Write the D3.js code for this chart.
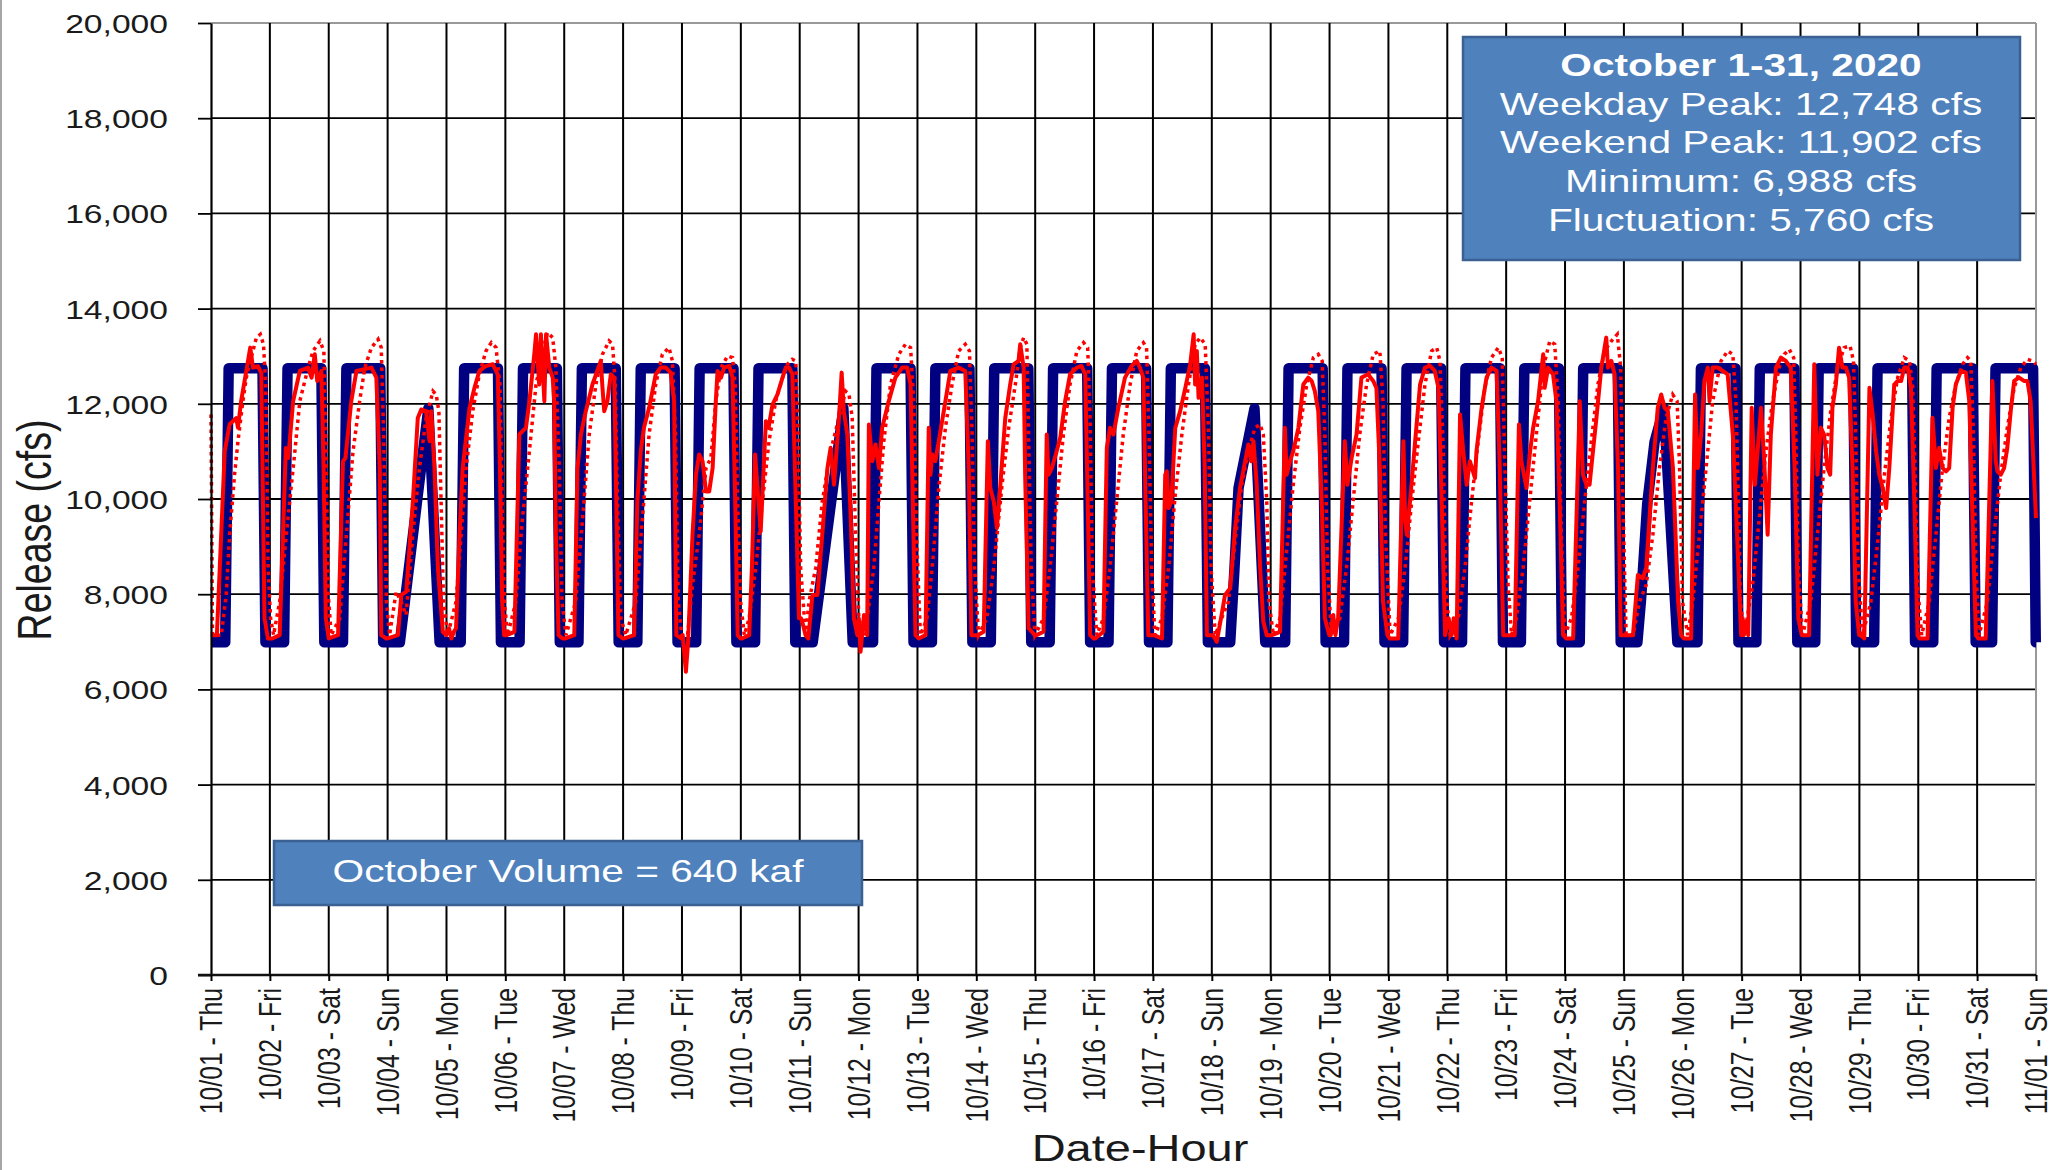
<!DOCTYPE html>
<html>
<head>
<meta charset="utf-8">
<script src="https://cdn.jsdelivr.net/npm/d3@7"></script>
<style>
body { margin: 0; background: #fff; }
svg text { font-family: "Liberation Sans", Arial, sans-serif; }
</style>
</head>
<body>
<svg id="chart" width="2055" height="1170"></svg>
<script>
const dayLabels = ["10/01 - Thu", "10/02 - Fri", "10/03 - Sat", "10/04 - Sun", "10/05 - Mon", "10/06 - Tue",
	"10/07 - Wed", "10/08 - Thu", "10/09 - Fri", "10/10 - Sat", "10/11 - Sun", "10/12 - Mon", "10/13 - Tue",
	"10/14 - Wed", "10/15 - Thu", "10/16 - Fri", "10/17 - Sat", "10/18 - Sun", "10/19 - Mon", "10/20 - Tue",
	"10/21 - Wed", "10/22 - Thu", "10/23 - Fri", "10/24 - Sat", "10/25 - Sun", "10/26 - Mon", "10/27 - Tue",
	"10/28 - Wed", "10/29 - Thu", "10/30 - Fri", "10/31 - Sat", "11/01 - Sun"];

const yTicks = [0, 2000, 4000, 6000, 8000, 10000, 12000, 14000, 16000, 18000, 20000];

const statsLines = ["October 1-31, 2020", "Weekday Peak: 12,748 cfs", "Weekend Peak: 11,902 cfs",
	"Minimum: 6,988 cfs", "Fluctuation: 5,760 cfs"];
const volumeNote = "October Volume = 640 kaf";

// one row per day, [hour of day, cfs]
const plannedDays = [
	[[0,6988],[5.8,6988],[7.2,12748],[21.0,12748],[22.2,6988]],
	[[5.8,6988],[7.2,12748],[21.0,12748],[22.2,6988]],
	[[5.8,6988],[7.2,12748],[21.0,12748],[22.2,6988]],
	[[5.0,6988],[16.6,11902],[21.2,6988]],
	[[5.8,6988],[7.2,12748],[21.0,12748],[22.2,6988]],
	[[5.8,6988],[7.2,12748],[21.0,12748],[22.2,6988]],
	[[5.8,6988],[7.2,12748],[21.0,12748],[22.2,6988]],
	[[5.8,6988],[7.2,12748],[21.0,12748],[22.2,6988]],
	[[5.8,6988],[7.2,12748],[21.0,12748],[22.2,6988]],
	[[5.8,6988],[7.2,12748],[21.0,12748],[22.2,6988]],
	[[5.3,6988],[17.8,11902],[21.6,6988]],
	[[5.9,6988],[7.3,12748],[21.2,12748],[22.4,6988]],
	[[5.9,6988],[7.3,12748],[21.2,12748],[22.4,6988]],
	[[5.9,6988],[7.3,12748],[21.2,12748],[22.4,6988]],
	[[5.9,6988],[7.3,12748],[21.2,12748],[22.4,6988]],
	[[5.9,6988],[7.3,12748],[21.2,12748],[22.4,6988]],
	[[5.9,6988],[7.3,12748],[21.2,12748],[22.4,6988]],
	[[7.5,6988],[9.2,8500],[10.9,10230],[17.4,11902],[21.8,6988]],
	[[5.9,6988],[7.3,12748],[21.2,12748],[22.4,6988]],
	[[5.9,6988],[7.3,12748],[21.2,12748],[22.4,6988]],
	[[6.0,6988],[7.4,12748],[21.5,12748],[22.7,6988]],
	[[6.0,6988],[7.4,12748],[21.5,12748],[22.7,6988]],
	[[6.0,6988],[7.4,12748],[21.5,12748],[22.7,6988]],
	[[6.0,6988],[7.4,12748],[21.5,12748],[22.7,6988]],
	[[5.5,6988],[7.0,7900],[9.5,9900],[12.5,11200],[16.3,11902],[21.8,6988]],
	[[6.0,6988],[7.4,12748],[21.5,12748],[22.7,6988]],
	[[6.0,6988],[7.4,12748],[21.5,12748],[22.7,6988]],
	[[6.0,6988],[7.4,12748],[21.5,12748],[22.7,6988]],
	[[6.0,6988],[7.4,12748],[21.5,12748],[22.7,6988]],
	[[6.1,6988],[7.5,12748],[22.2,12748],[23.4,6988]],
	[[6.1,6988],[7.5,12748],[22.8,12748],[23.9,6988],[24,6988]]
];

const actualDays = [
	[[0,7140],[2.4,7140],[5.6,11000],[7.6,11570],[10.3,11700],[11,11500],[12.3,12060],[14.4,12690],[16,13180],[17.1,12760],[19.1,12790],[20.5,12650],[21.8,7500],[23.2,7070]],
	[[1,7070],[4,7140],[6.5,11070],[7.5,10860],[9.5,12060],[12.2,12690],[15.6,12760],[17,12550],[18.3,13040],[19.3,12480],[21,12690],[21.9,10650],[22.8,7500]],
	[[0,7070],[3.8,7140],[5.8,10790],[6.8,10860],[9.2,12060],[11.3,12690],[17.4,12760],[19.4,12550],[20.8,10650],[21.4,7140],[23.5,7070]],
	[[0,7070],[4.2,7140],[5.6,7985],[7.6,8055],[10.3,9950],[12.3,11700],[13.7,11880],[15.7,11845],[17.1,11215],[17.8,11845],[19.1,10650],[20.5,8550],[22.5,7210],[23.9,7140]],
	[[1,7285],[2,7070],[3,7210],[3.9,7285],[5.3,9250],[6.6,10650],[9.4,11915],[11.4,12335],[13.4,12690],[16.1,12795],[18.9,12830],[20.9,12620],[21.8,10650],[22.7,7845],[23.5,7140]],
	[[0.5,7140],[3.7,7210],[5.7,11355],[7,11425],[8.4,11495],[9.8,12055],[11.8,13040],[12.5,13460],[13.8,12405],[14.5,13460],[15.9,12055],[16.6,13460],[17.9,12760],[19.3,12550],[19.9,12055],[20.6,9250],[21.7,7140],[23.3,7070]],
	[[0.5,7070],[4.1,7140],[5.4,10650],[6.8,11355],[8.8,11845],[11.5,12405],[14.9,12900],[15.6,12335],[16.3,11845],[17.6,12055],[19,12620],[20.4,12550],[21,10650],[22.1,7140],[23.9,7070]],
	[[0.5,7070],[4.5,7140],[5.8,9950],[7.2,11005],[8.5,11495],[10.6,11915],[13.3,12620],[15.3,12760],[17.4,12760],[19.4,12655],[20.8,12055],[21.7,7140],[23.8,7070]],
	[[0.3,7140],[1.6,6370],[2.5,7000],[4.3,9250],[5.7,10510],[7,10935],[8.4,10795],[9.8,10160],[11.1,10160],[12.5,10650],[13.8,12055],[14.5,12690],[15.9,12550],[17.2,12760],[19.3,12795],[20.6,12550],[21.7,9950],[22.7,7140],[23.9,7070]],
	[[0.5,7070],[3.4,7140],[4.5,8550],[5.8,10935],[6.8,10230],[8.1,9320],[10.2,11635],[11.3,11495],[12.9,11985],[14.9,12195],[17,12550],[18.3,12760],[19.7,12760],[21,12620],[22.4,9950],[23.7,7495]],
	[[0.5,7495],[1,7425],[2.4,7140],[3.5,7070],[5.2,7985],[7.2,7985],[9.2,9250],[11.3,10650],[12.6,11075],[14,10300],[16,11705],[17.1,12655],[18,11845],[19.4,11355],[20.8,9600],[22.1,7495],[23.5,7140]],
	[[0.1,7495],[0.8,6790],[2.2,7565],[3.5,7140],[4.2,11565],[5.6,10795],[6.9,11145],[8.3,10650],[9.6,11495],[12.3,12055],[15,12550],[17.8,12760],[19.8,12760],[21.2,12405],[22.1,9950],[23.2,7140]],
	[[0.5,7070],[3.3,7140],[4.6,11495],[5.3,10510],[6,10935],[7.3,10795],[8.7,11215],[11.4,12055],[13.4,12690],[16.8,12760],[19.5,12690],[20.9,10650],[22,7140],[23.9,7140]],
	[[0.5,7140],[3,7210],[4.7,11215],[5.7,10230],[7.1,9950],[8.4,9390],[9.8,10300],[11.8,11705],[13.8,12405],[15.2,12830],[17.2,12900],[17.9,13250],[19.3,12760],[19.9,10510],[21.3,7285],[23.9,7140]],
	[[0.5,7140],[3.4,7210],[4.7,11355],[5.4,10510],[6.8,10650],[8.4,10935],[10.2,11285],[12.2,12055],[14.2,12620],[17,12760],[18.9,12795],[20.4,12620],[21.4,9950],[22.4,7140],[23.9,7070]],
	[[0.5,7070],[3.8,7210],[5.2,11075],[6.5,11495],[7.9,11355],[9.9,11915],[12.6,12550],[15.3,12795],[17.4,12900],[18.7,12760],[20.1,12550],[21,9950],[22.1,7140],[23.9,7140]],
	[[0.5,7140],[3.7,7070],[5,10510],[5.7,10580],[6.4,9810],[7.5,9950],[9.1,11495],[11.1,11845],[13.2,12335],[15.2,12830],[16.6,13460],[17.2,12405],[17.9,13110],[18.6,12125],[20,12550],[21.1,10650],[22,7140],[23.9,7140]],
	[[0.5,7140],[2,7000],[4,7565],[5.4,7985],[7.5,8125],[9.5,9390],[11.5,10230],[13.6,10795],[14.9,11145],[16,10795],[17,11215],[18.3,10300],[19.7,8550],[21,7425],[22.4,7140],[23.9,7140]],
	[[0.5,7140],[3.8,7210],[5.8,11495],[6.5,10510],[7.9,10795],[9.2,11005],[11.3,11495],[13.3,12405],[15.3,12550],[16.7,12480],[18,12265],[19.4,11845],[20.8,9950],[22.1,7495],[23.9,7140]],
	[[0.5,7140],[1.5,7565],[2.4,7140],[3.5,7495],[6.2,11215],[7.3,10300],[9,10865],[11,11355],[13,12550],[15.7,12620],[17.8,12480],[19.1,12335],[20.5,10650],[21.8,7845],[23.6,7140]],
	[[0.5,7070],[4,7070],[6.1,11215],[6.8,9600],[7.5,9250],[8.8,9950],[10.9,11215],[12.9,12405],[14.9,12760],[17,12795],[18.9,12690],[20.4,12335],[21.7,9950],[23.1,7140]],
	[[0.5,7495],[1.8,7140],[2.6,7495],[3.8,7070],[5.2,11775],[6.5,11005],[7.9,10300],[9.2,10795],[11.3,10440],[11.9,11005],[14,11915],[16,12550],[18,12760],[20.1,12690],[21.4,10650],[22.8,7140],[23.9,7140]],
	[[0.5,7140],[3.5,7140],[5.2,11565],[6.2,10795],[8.3,10230],[9.6,10935],[11,11495],[13,12055],[15.1,13040],[15.7,12335],[17.1,12760],[19.1,12620],[20.5,12055],[21.8,9950],[23.2,7140]],
	[[0.5,7070],[3.3,7070],[6,12055],[7.3,10510],[8.7,10300],[10,10300],[11.4,11005],[12.8,11705],[14.8,12760],[16.8,13390],[17.5,12760],[18.9,12900],[20.2,12620],[21.6,10650],[22.7,7140],[23.9,7140]],
	[[0.5,7140],[3.7,7140],[5.7,8405],[7.7,8335],[9.1,8550],[11.8,10650],[13.8,11915],[15.2,12195],[16.6,11915],[17.9,11845],[20,10650],[22.1,7845],[23.3,7140]],
	[[0.5,7070],[3.4,7070],[5,12195],[6.1,10650],[7.5,11355],[8.8,12480],[10.2,12760],[10.9,12055],[12.2,12760],[14.2,12760],[16.3,12690],[18.3,12620],[20.4,11355],[22.4,8900],[23.8,7140]],
	[[0.4,7495],[0.8,7140],[1.8,7425],[2.7,7140],[4.1,11915],[5.4,10300],[6.5,11005],[7.9,11915],[9.2,10795],[10.6,9250],[11.9,11355],[14,12760],[16,12970],[18,12900],[20,12760],[21.6,10650],[23.1,7495]],
	[[0.5,7140],[3.5,7140],[5.6,12830],[6.9,10510],[8.3,11495],[9.6,11355],[11,10650],[12.1,10510],[13,11915],[14.4,12405],[15.7,13180],[17.1,12760],[18.5,12760],[19.8,12550],[21.2,10650],[22.5,7845],[23.9,7140]],
	[[0.5,7140],[2,7070],[4.1,12335],[5.4,11775],[6.8,11005],[8.1,10510],[9.5,10230],[10.9,9810],[12.2,10650],[14.2,12405],[15.6,12480],[17,12480],[18.3,12760],[19.7,12760],[21,12335],[22.4,9950],[23.7,7140]],
	[[0.5,7070],[3.8,7070],[5.8,11705],[7.2,10650],[8.5,11075],[9.9,10650],[11.3,10580],[12.6,10650],[14,11915],[15.3,12405],[17.4,12690],[19.4,12655],[20.8,12055],[22.1,9600],[23.5,7140]],
	[[0.5,7070],[3.5,7070],[6.2,12480],[7.6,10795],[8.3,10580],[9.6,10510],[11,10650],[12.3,11075],[13.7,11845],[15.1,12480],[17.1,12550],[19.1,12480],[20.5,12480],[21.8,12055],[24,9600]]
];

const priorDays = [
	[[0,11775],[0.6,7140],[4.2,7140],[6.2,7985],[7.6,9250],[9.6,10510],[11,11215],[13,12055],[14.4,12550],[16.4,12970],[18.5,13390],[20.1,13460],[21.4,13250],[22.3,12405],[22.8,10650],[23.3,8550]],
	[[0.3,7495],[1.5,7140],[4,7845],[8.1,9950],[10.2,11005],[12.2,12055],[15.6,12760],[17.6,13110],[20.4,13320],[22,13110],[23,10650],[23.8,8000]],
	[[1,7140],[4.5,7495],[7.2,9250],[9.9,11005],[12.6,12055],[14.7,12760],[17.4,13180],[20.1,13355],[21.4,13180],[22.4,11355],[23.5,7845]],
	[[0.8,7140],[3.5,8055],[5.5,7845],[7.5,7565],[10.3,9250],[13,10650],[15.7,11705],[18.5,12265],[19.8,12195],[20.9,11845],[21.8,9950],[22.8,7845]],
	[[0.5,7140],[3.9,7845],[6,9250],[8,10650],[10.7,11845],[13.4,12620],[16.1,13110],[18.3,13285],[20.2,13180],[21.8,12405],[22.7,9950],[23.6,7845]],
	[[0.9,7140],[4.3,7845],[7,9600],[9.8,11005],[12.5,12405],[15.2,13110],[17.2,13495],[19.3,13390],[20.6,12760],[22,10650],[23.1,7845]],
	[[0.7,7140],[4.7,7845],[7.5,9600],[10.2,11355],[12.9,12405],[15.6,13040],[18.3,13320],[19.7,13250],[20.8,12405],[21.7,9950],[23.1,7495]],
	[[1.1,7140],[5.2,7845],[7.9,9600],[10.6,11355],[13.3,12405],[16,13040],[18.7,13180],[20.1,12900],[21.4,11355],[22.5,7845],[23.9,7140]],
	[[2.3,7140],[4.3,8195],[7,9250],[9.8,10650],[11.8,10865],[13.8,12055],[15.9,12760],[18.6,13005],[20.6,12970],[21.7,12405],[22.7,9950],[23.9,7845]],
	[[1.4,7140],[3.4,7495],[6.1,8550],[8.8,9950],[11.5,11215],[14.2,12055],[17,12550],[19,12830],[21,12935],[22.4,12900],[23.3,11355]],
	[[0.4,8550],[2.4,7140],[3.8,7845],[6.5,8550],[9.2,9950],[12.6,11005],[16,11705],[18.7,12265],[20.1,12195],[21.4,11705],[22.8,9250]],
	[[0.1,7495],[2.2,7140],[3.5,7495],[6.2,8550],[8.3,9950],[10.3,11215],[13,12405],[16.4,13040],[19.1,13250],[21.2,13180],[22.5,12055],[23.6,9250]],
	[[1.2,7140],[3.9,7495],[6,8550],[8.7,10230],[11.4,11495],[14.1,12405],[16.8,13110],[19.5,13250],[21.2,13110],[22.3,11355],[23.3,8550]],
	[[0.9,7140],[4.3,7495],[7.1,8550],[10.5,10300],[13.2,11495],[15.9,12405],[17.9,13180],[19.3,13390],[20.6,13250],[21.3,11355],[22.4,8550],[23.9,7140]],
	[[3.4,7495],[6.1,8550],[8.8,9950],[11.5,11355],[14.2,12405],[17,13110],[19.7,13285],[21.4,13180],[22.4,11705],[23.3,8550]],
	[[1.1,7140],[3.8,7495],[6.5,8550],[9.2,9950],[11.9,11355],[14.7,12405],[17.4,13110],[20.1,13285],[21.4,13180],[22.4,11355],[23.5,8550]],
	[[0.8,7140],[3.7,7495],[6.4,8550],[9.1,10090],[11.8,11355],[14.5,12405],[17.2,13250],[19.3,13390],[21.3,13250],[22.7,11355],[23.7,8550]],
	[[1.4,7140],[4,7495],[6.8,7845],[9.5,9110],[12.2,10300],[14.9,11005],[17.6,11495],[19.7,11565],[21,11355],[22.4,9950],[23.3,7845]],
	[[1.1,7140],[3.8,7495],[6.5,8900],[9.2,10300],[11.9,11495],[14.7,12405],[17.4,12970],[19.4,13040],[21,12900],[22.1,11355],[23.2,8550]],
	[[0.8,7140],[4.2,7495],[6.9,8550],[9.6,9950],[12.3,11355],[15.1,12405],[17.8,13040],[20.5,13110],[21.8,12055],[22.8,9250]],
	[[0.7,7140],[4.1,7495],[6.8,8550],[9.5,9950],[12.2,11215],[14.9,12405],[17.6,13110],[19.7,13180],[21,12900],[22.4,11005],[23.3,8195]],
	[[1.1,7140],[4.5,7495],[7.2,8550],[9.9,9950],[12.6,11215],[15.3,12335],[18,12970],[20.8,13180],[22.4,12970],[23.5,10650]],
	[[0.8,8195],[2.2,7140],[4.2,7495],[6.9,8550],[9.6,9950],[12.3,11355],[15.1,12760],[17.8,13320],[19.8,13250],[21.2,12055],[22.5,9250],[23.9,7140]],
	[[2.6,7495],[5.3,8550],[8,9950],[10.7,11215],[13.4,12405],[16.1,13110],[18.9,13320],[21.3,13460],[22.7,12760],[23.6,9950]],
	[[0.9,7140],[3.7,7140],[6.4,7845],[9.1,8195],[11.8,9250],[14.5,10650],[17.2,11705],[19.9,12195],[21.7,12055],[22.7,10650],[23.9,7845]],
	[[2,7140],[4.1,7845],[6.8,9250],[9.5,10650],[12.2,12055],[15.6,12900],[18.3,13110],[20.4,13040],[21.7,12055],[22.7,9950],[23.5,7845]],
	[[1.1,7140],[4.5,8195],[7.2,9600],[9.9,11005],[12.6,12055],[15.3,12760],[17.4,13040],[19.4,13145],[21.2,12970],[22.1,11355],[23.1,8550]],
	[[0.8,7140],[4.2,7845],[6.9,9250],[9.6,10650],[12.3,11845],[15.1,12760],[17.8,13180],[20.2,13215],[21.6,12900],[22.5,11355],[23.5,8550]],
	[[1.3,7140],[4.7,7845],[7.5,9110],[10.2,10510],[12.9,11705],[15.6,12550],[18.3,12970],[20.4,12900],[21.7,12405],[22.7,10650],[23.7,8195]],
	[[1.4,7140],[4.5,7845],[7.2,9250],[9.9,10650],[12.6,11705],[15.3,12405],[18.1,12830],[20.1,12970],[21.4,12900],[22.5,11355],[23.5,8550]],
	[[0.8,7140],[4.2,7845],[6.9,9250],[9.6,10510],[12.3,11495],[15.1,12335],[17.8,12760],[20.5,12935],[22.5,12900],[24,12830]]
];

// the source picture is stretched sideways, so text is too
const SX = 1.27;
const width = 2055, height = 1170;
const margin = {left: 211, right: 19, top: 23, bottom: 195};

const svg = d3.select('#chart');

function toSeries(days) {
	return days.flatMap(function(row, d) {
		return row.map(function(p) { return {h: d * 24 + p[0], v: p[1]}; });
	});
}

const planned = toSeries(plannedDays),
	actual = toSeries(actualDays),
	prior = toSeries(priorDays);

const x = d3.scaleLinear().domain([0, (dayLabels.length - 1) * 24]).range([margin.left, width - margin.right]);
const y = d3.scaleLinear().domain([0, 20000]).range([height - margin.bottom, margin.top]);

const dayTicks = dayLabels.map(function(d, i) { return i * 24; });

// outer frame edge
svg.append('line').attr('x1', 1).attr('x2', 1).attr('y1', 0).attr('y2', height)
	.attr('stroke', '#a6a6a6').attr('stroke-width', 2);

// grid
svg.append('g').selectAll('line').data(yTicks.slice(1)).enter().append('line')
	.attr('x1', x(0)).attr('x2', x.range()[1])
	.attr('y1', function(d) { return y(d); }).attr('y2', function(d) { return y(d); })
	.attr('stroke', function(d) { return d === 20000 ? '#999' : '#000'; })
	.attr('stroke-width', 1.8);

svg.append('g').selectAll('line').data(dayTicks.slice(1)).enter().append('line')
	.attr('x1', function(d) { return x(d); }).attr('x2', function(d) { return x(d); })
	.attr('y1', y(20000)).attr('y2', y(0))
	.attr('stroke', function(d, i) { return i === dayTicks.length - 2 ? '#999' : '#000'; })
	.attr('stroke-width', 2);

// series
const line = d3.line().x(function(d) { return x(d.h); }).y(function(d) { return y(d.v); });

svg.append('path').datum(planned).attr('d', line)
	.attr('fill', 'none').attr('stroke', '#000080').attr('stroke-width', 10.5)
	.attr('stroke-linejoin', 'round').attr('stroke-linecap', 'butt');

svg.append('path').datum(prior).attr('d', line)
	.attr('fill', 'none').attr('stroke', '#ff0000').attr('stroke-width', 3.5)
	.attr('stroke-dasharray', '3.5,4');

svg.append('path').datum(actual).attr('d', line)
	.attr('fill', 'none').attr('stroke', '#ff0000').attr('stroke-width', 4)
	.attr('stroke-linejoin', 'round');

// axes
const yAxis = svg.append('g').attr('transform', 'translate(' + margin.left + ',0)')
	.call(d3.axisLeft(y).tickValues(yTicks).tickFormat(d3.format(',')).tickSize(13).tickSizeOuter(0));
yAxis.select('.domain').attr('stroke', '#000').attr('stroke-width', 2.2);
yAxis.selectAll('.tick line').attr('stroke', '#000').attr('stroke-width', 1.8);
yAxis.selectAll('.tick text')
	.attr('x', 0).attr('dy', '0.36em')
	.attr('transform', 'translate(-43,0) scale(' + SX + ',1)')
	.attr('fill', '#1a1a1a').style('font-size', '26.5px');

const xAxis = svg.append('g').attr('transform', 'translate(0,' + y(0) + ')')
	.call(d3.axisBottom(x).tickValues(dayTicks).tickFormat(function(d, i) { return dayLabels[i]; })
		.tickSize(6).tickSizeOuter(0));
xAxis.select('.domain').attr('stroke', '#111').attr('stroke-width', 2.6)
	.attr('d', 'M' + (margin.left - 13) + ',0H' + x.range()[1]);
xAxis.selectAll('.tick line').attr('stroke', '#000').attr('stroke-width', 2);
xAxis.selectAll('.tick text')
	.attr('x', 0).attr('y', 0).attr('dy', '0.34em')
	.attr('text-anchor', 'end')
	.attr('transform', 'translate(0,13) scale(' + SX + ',1) rotate(-90)')
	.attr('fill', '#1a1a1a').style('font-size', '24.8px');

svg.append('text').text('Release (cfs)')
	.attr('transform', 'translate(51,' + ((y(0) + y(20000)) / 2 + 31) + ') scale(' + SX + ',1) rotate(-90)')
	.attr('text-anchor', 'middle').attr('fill', '#1a1a1a').style('font-size', '37.5px');

svg.append('text').text('Date-Hour')
	.attr('transform', 'translate(1140,1161) scale(' + SX + ',1)')
	.attr('text-anchor', 'middle').attr('fill', '#1a1a1a').style('font-size', '37px');

// annotation boxes
const statBox = svg.append('g');
statBox.append('rect').attr('x', 1463).attr('y', 37).attr('width', 557).attr('height', 223)
	.attr('fill', '#4f81bd').attr('stroke', '#3a6191').attr('stroke-width', 2.5);
statBox.selectAll('text').data(statsLines).enter().append('text')
	.text(function(d) { return d; })
	.attr('transform', function(d, i) { return 'translate(1741,' + (76 + i * 38.7) + ') scale(' + SX + ',1)'; })
	.attr('text-anchor', 'middle').attr('fill', '#fff')
	.style('font-size', '32px')
	.style('font-weight', function(d, i) { return i === 0 ? 'bold' : 'normal'; });

const volBox = svg.append('g');
volBox.append('rect').attr('x', 274).attr('y', 841).attr('width', 588).attr('height', 64)
	.attr('fill', '#4f81bd').attr('stroke', '#3a6191').attr('stroke-width', 2.5);
volBox.append('text').text(volumeNote)
	.attr('transform', 'translate(568,882) scale(' + SX + ',1)')
	.attr('text-anchor', 'middle').attr('fill', '#fff').style('font-size', '32px');
</script>
</body>
</html>
